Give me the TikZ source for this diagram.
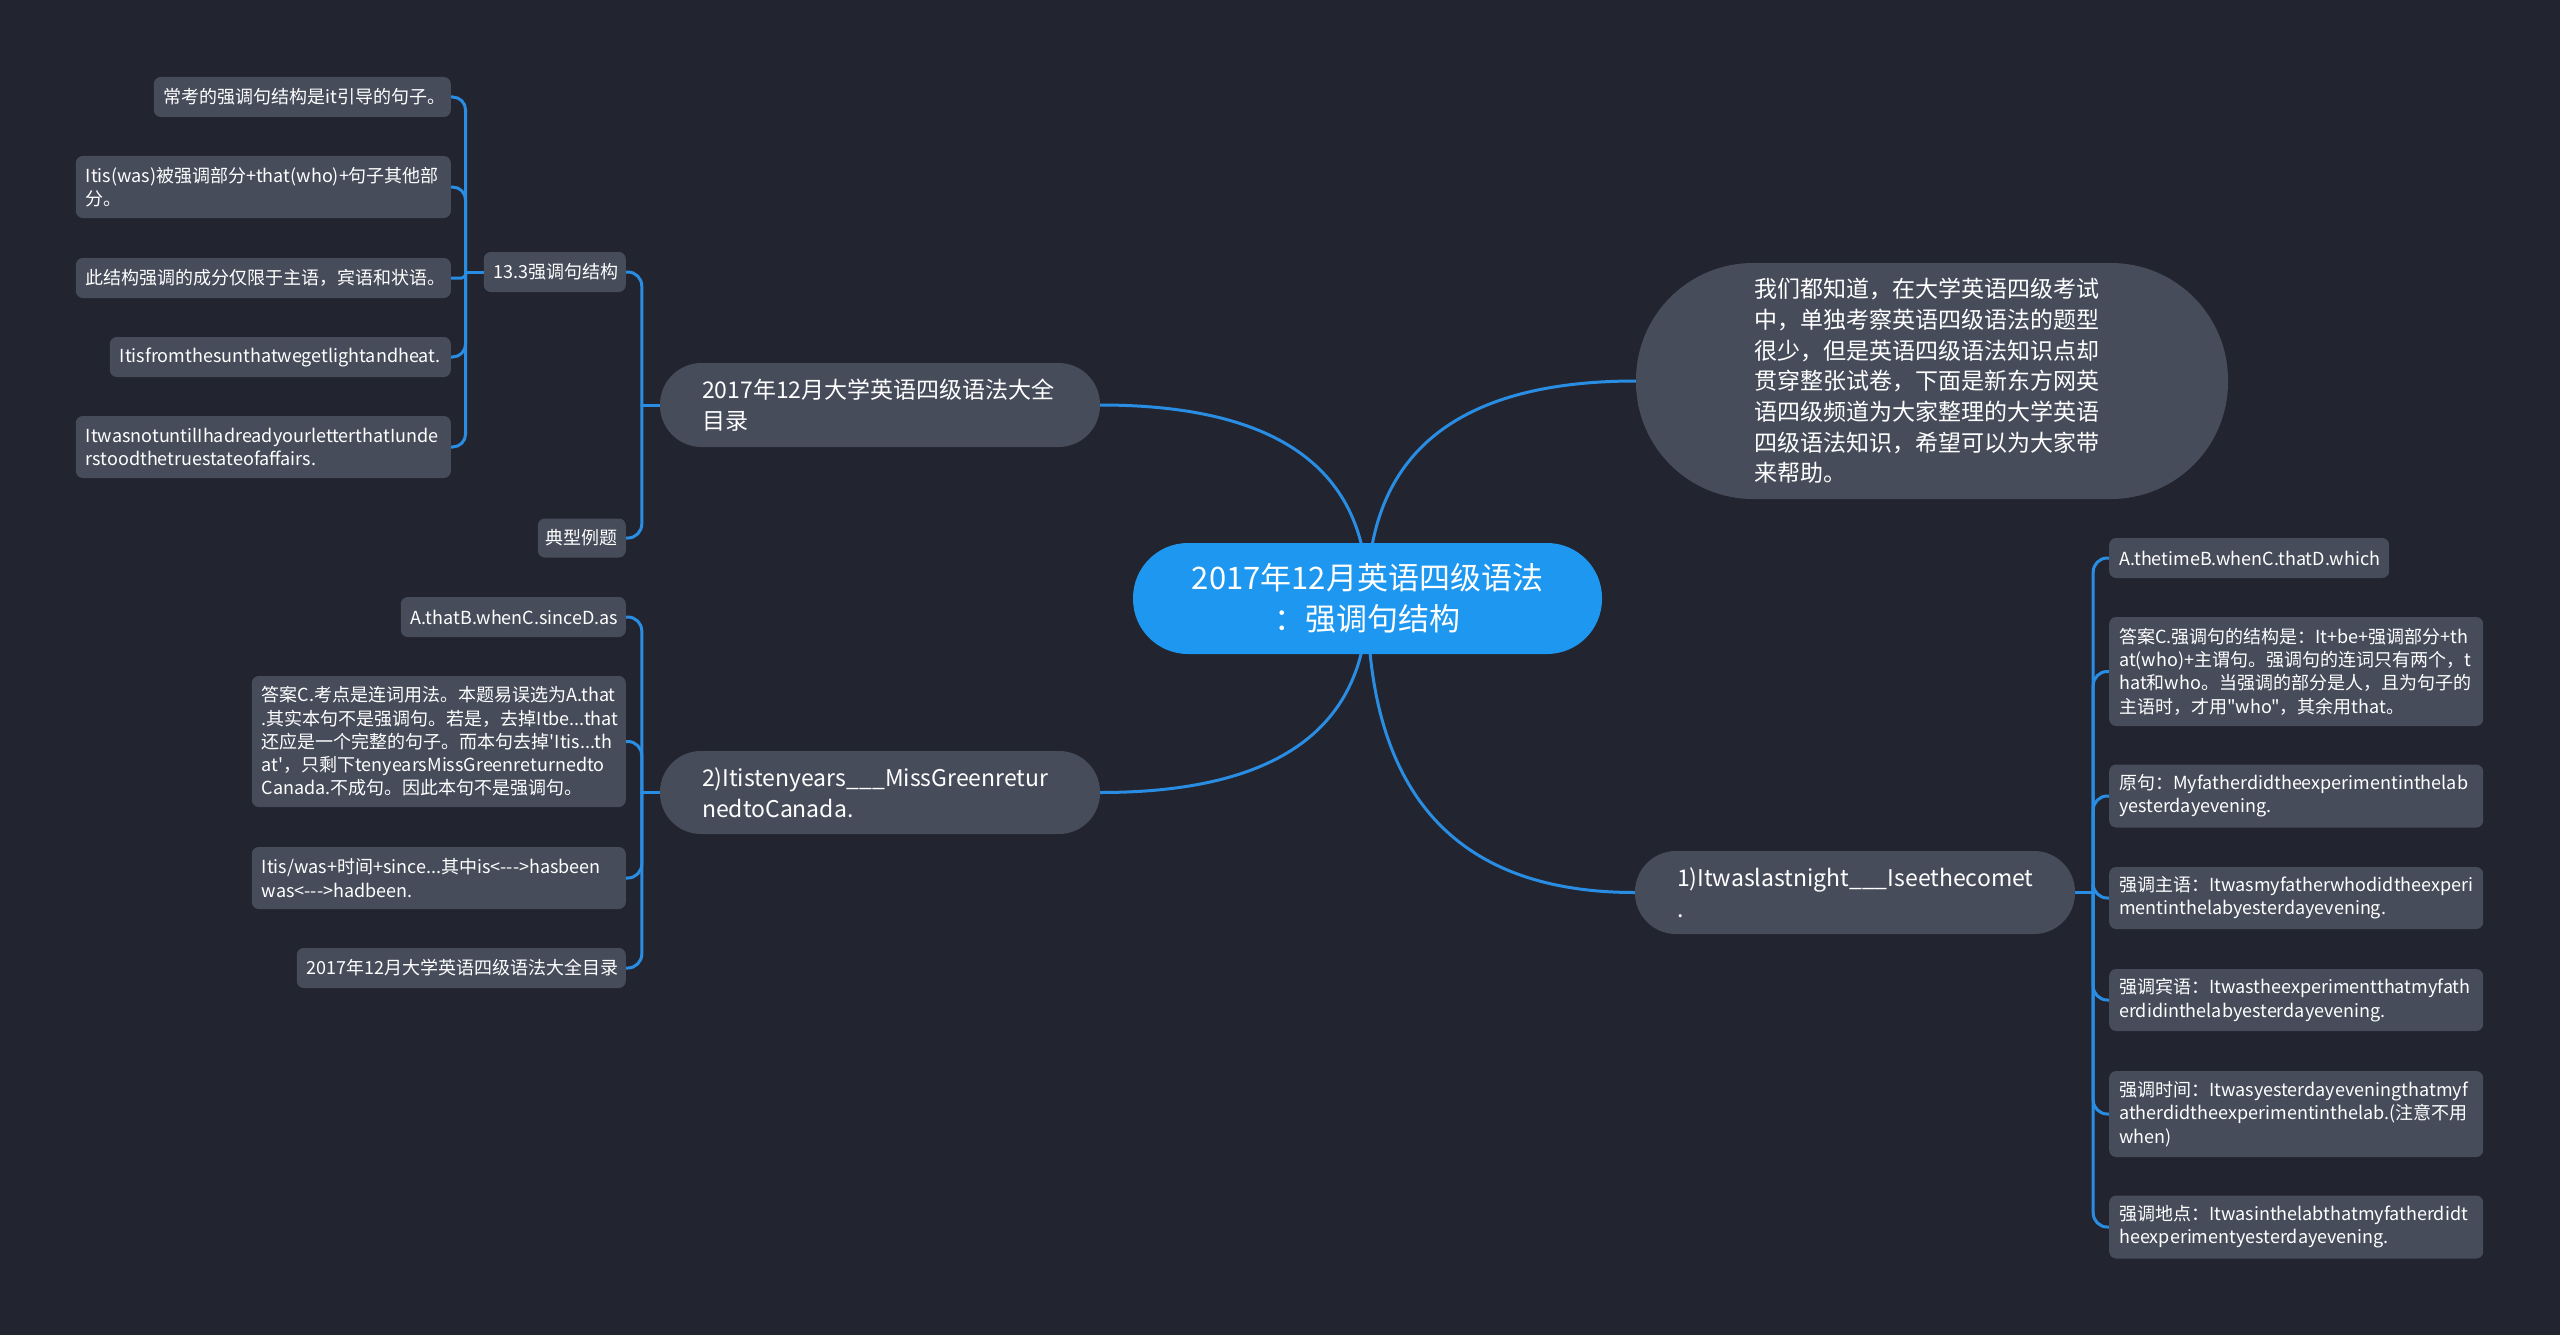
\documentclass[tikz,border=0pt]{standalone}
\usepackage{fontspec}
\newfontfamily\cjk{Noto Sans CJK SC}
\usetikzlibrary{calc}
\definecolor{bgc}{HTML}{22252F}
\definecolor{boxc}{HTML}{474C5B}
\definecolor{rootc}{HTML}{1E97F0}
\definecolor{linec}{HTML}{2A8DE4}
\newcommand\myfs[2]{\fontsize{#1}{#2}\selectfont}
\pgfdeclarelayer{bgl}
\pgfdeclarelayer{linel}
\pgfsetlayers{bgl,linel,main}
\begin{document}
\begin{tikzpicture}[x=1pt,y=-1pt,
 conn/.style={draw=linec, line width=3pt, line cap=round},
 leafbox/.style={fill=boxc, text=white, rounded corners=7pt, inner xsep=10pt, inner ysep=0pt, align=left, font={\cjk\myfs{18pt}{23.3pt}}},
 leafL/.style={leafbox, anchor=east},
 leafR/.style={leafbox, anchor=west},
 topic/.style={fill=boxc, text=white, inner xsep=0pt, inner ysep=0pt, align=left, text width=356pt, font={\cjk\myfs{23pt}{30.7pt}}},
 rootbox/.style={fill=rootc, text=white, inner sep=0pt, align=center, font={\cjk\myfs{31pt}{41pt}}, minimum width=469pt, minimum height=111pt, rounded corners=55pt}
]
\useasboundingbox (0,0) rectangle (2560,1335);
\begin{pgfonlayer}{bgl}
\fill[bgc] (0,0) rectangle (2560,1335);
\end{pgfonlayer}

% root
\node[rootbox] (root) at (1367.5,598.5) {2017年12月英语四级语法\\：强调句结构};

% level 1
\node[topic, minimum width=440pt, minimum height=84pt, rounded corners=41.5pt] (A) at (880,405) {2017年12月大学英语四级语法大全\\目录};
\node[topic, minimum width=440pt, minimum height=83pt, rounded corners=41pt] (B) at (880,792.5) {2)Itistenyears\_\_\_MissGreenretur\\nedtoCanada.};
\node[topic, minimum width=592pt, minimum height=236pt, rounded corners=117pt] (C) at (1932,381) {我们都知道，在大学英语四级考试\\中，单独考察英语四级语法的题型\\很少，但是英语四级语法知识点却\\贯穿整张试卷，下面是新东方网英\\语四级频道为大家整理的大学英语\\四级语法知识，希望可以为大家带\\来帮助。};
\node[topic, minimum width=440pt, minimum height=83pt, rounded corners=41pt] (D) at (1855,892.5) {1)Itwaslastnight\_\_\_Iseethecomet\\.};

% children of A
\node[leafL, text width=122pt, minimum height=40pt] (n133) at (626,272) {13.3强调句结构};
\node[leafL, text width=72pt, inner xsep=8pt, minimum height=39pt] (nlt) at (626,538) {典型例题};

% children of 13.3
\node[leafL, text width=277pt, minimum height=40pt] (c1) at (451,97) {常考的强调句结构是it引导的句子。};
\node[leafL, text width=355pt, minimum height=62pt] (c2) at (451,187) {Itis(was)被强调部分+that(who)+句子其他部\\分。};
\node[leafL, text width=355pt, minimum height=40pt] (c3) at (451,278) {此结构强调的成分仅限于主语，宾语和状语。};
\node[leafL, text width=321pt, minimum height=40pt] (c4) at (451,357) {Itisfromthesunthatwegetlightandheat.};
\node[leafL, text width=355pt, minimum height=62pt] (c5) at (451,447) {ItwasnotuntilIhadreadyourletterthatIunde\\rstoodthetruestateofaffairs.};

% children of B
\node[leafL, text width=205pt, minimum height=40pt] (b1) at (626,617) {A.thatB.whenC.sinceD.as};
\node[leafL, text width=354pt, minimum height=131pt] (b2) at (626,741.5) {答案C.考点是连词用法。本题易误选为A.that\\.其实本句不是强调句。若是，去掉Itbe...that\\还应是一个完整的句子。而本句去掉'Itis...th\\at'，只剩下tenyearsMissGreenreturnedto\\Canada.不成句。因此本句不是强调句。};
\node[leafL, text width=354pt, minimum height=62pt] (b3) at (626,878) {Itis/was+时间+since...其中is<-{}-{}->hasbeen\\was<-{}-{}->hadbeen.};
\node[leafL, text width=309pt, minimum height=40pt] (b4) at (626,968) {2017年12月大学英语四级语法大全目录};

% children of D
\node[leafR, text width=260pt, minimum height=40pt] (d1) at (2109,558) {A.thetimeB.whenC.thatD.which};
\node[leafR, text width=354pt, minimum height=109pt] (d2) at (2109,671.5) {答案C.强调句的结构是：It+be+强调部分+th\\at(who)+主谓句。强调句的连词只有两个，t\\hat和who。当强调的部分是人，且为句子的\\主语时，才用"who"，其余用that。};
\node[leafR, text width=354pt, minimum height=63pt] (d3) at (2109,796) {原句：Myfatherdidtheexperimentinthelab\\yesterdayevening.};
\node[leafR, text width=354pt, minimum height=62pt] (d4) at (2109,898) {强调主语：Itwasmyfatherwhodidtheexperi\\mentinthelabyesterdayevening.};
\node[leafR, text width=354pt, minimum height=62pt] (d5) at (2109,1000) {强调宾语：Itwastheexperimentthatmyfath\\erdidinthelabyesterdayevening.};
\node[leafR, text width=354pt, minimum height=86pt] (d6) at (2109,1114) {强调时间：Itwasyesterdayeveningthatmyf\\atherdidtheexperimentinthelab.(注意不用\\when)};
\node[leafR, text width=354pt, minimum height=63pt] (d7) at (2109,1227) {强调地点：Itwasinthelabthatmyfatherdidt\\heexperimentyesterdayevening.};

\begin{pgfonlayer}{linel}
% root to level 1
\foreach \n in {A,B} {
  \draw[conn] (root.center) .. controls ($(root.center)!0.6667!(root.center|-\n.east)$) and ($(\n.east)!0.6667!(root.center|-\n.east)$) .. (\n.east);
}
\foreach \n in {C,D} {
  \draw[conn] (root.center) .. controls ($(root.center)!0.6667!(root.center|-\n.west)$) and ($(\n.west)!0.6667!(root.center|-\n.west)$) .. (\n.west);
}
% A
\coordinate (sA) at ($(A.west)+(-18,0)$);
\draw[conn] (A.west) -- (sA);
\draw[conn, rounded corners=14pt] (sA) |- (n133.east);
\draw[conn, rounded corners=14pt] (sA) |- (nlt.east);
% 13.3
\coordinate (s133) at ($(n133.west)+(-18,0)$);
\draw[conn] (n133.west) -- (s133);
\foreach \n in {c1,c2,c4,c5} {
  \draw[conn, rounded corners=13pt] (s133) |- (\n.east);
}
\draw[conn, rounded corners=4pt] (s133) |- (c3.east);
% B
\coordinate (sB) at ($(B.west)+(-18,0)$);
\draw[conn] (B.west) -- (sB);
\foreach \n in {b1,b2,b3,b4} {
  \draw[conn, rounded corners=14pt] (sB) |- (\n.east);
}
% D
\coordinate (sD) at ($(D.east)+(18,0)$);
\draw[conn] (D.east) -- (sD);
\foreach \n in {d1,d2,d3,d4,d5,d6,d7} {
  \draw[conn, rounded corners=14pt] (sD) |- (\n.west);
}
\end{pgfonlayer}
\end{tikzpicture}
\end{document}
